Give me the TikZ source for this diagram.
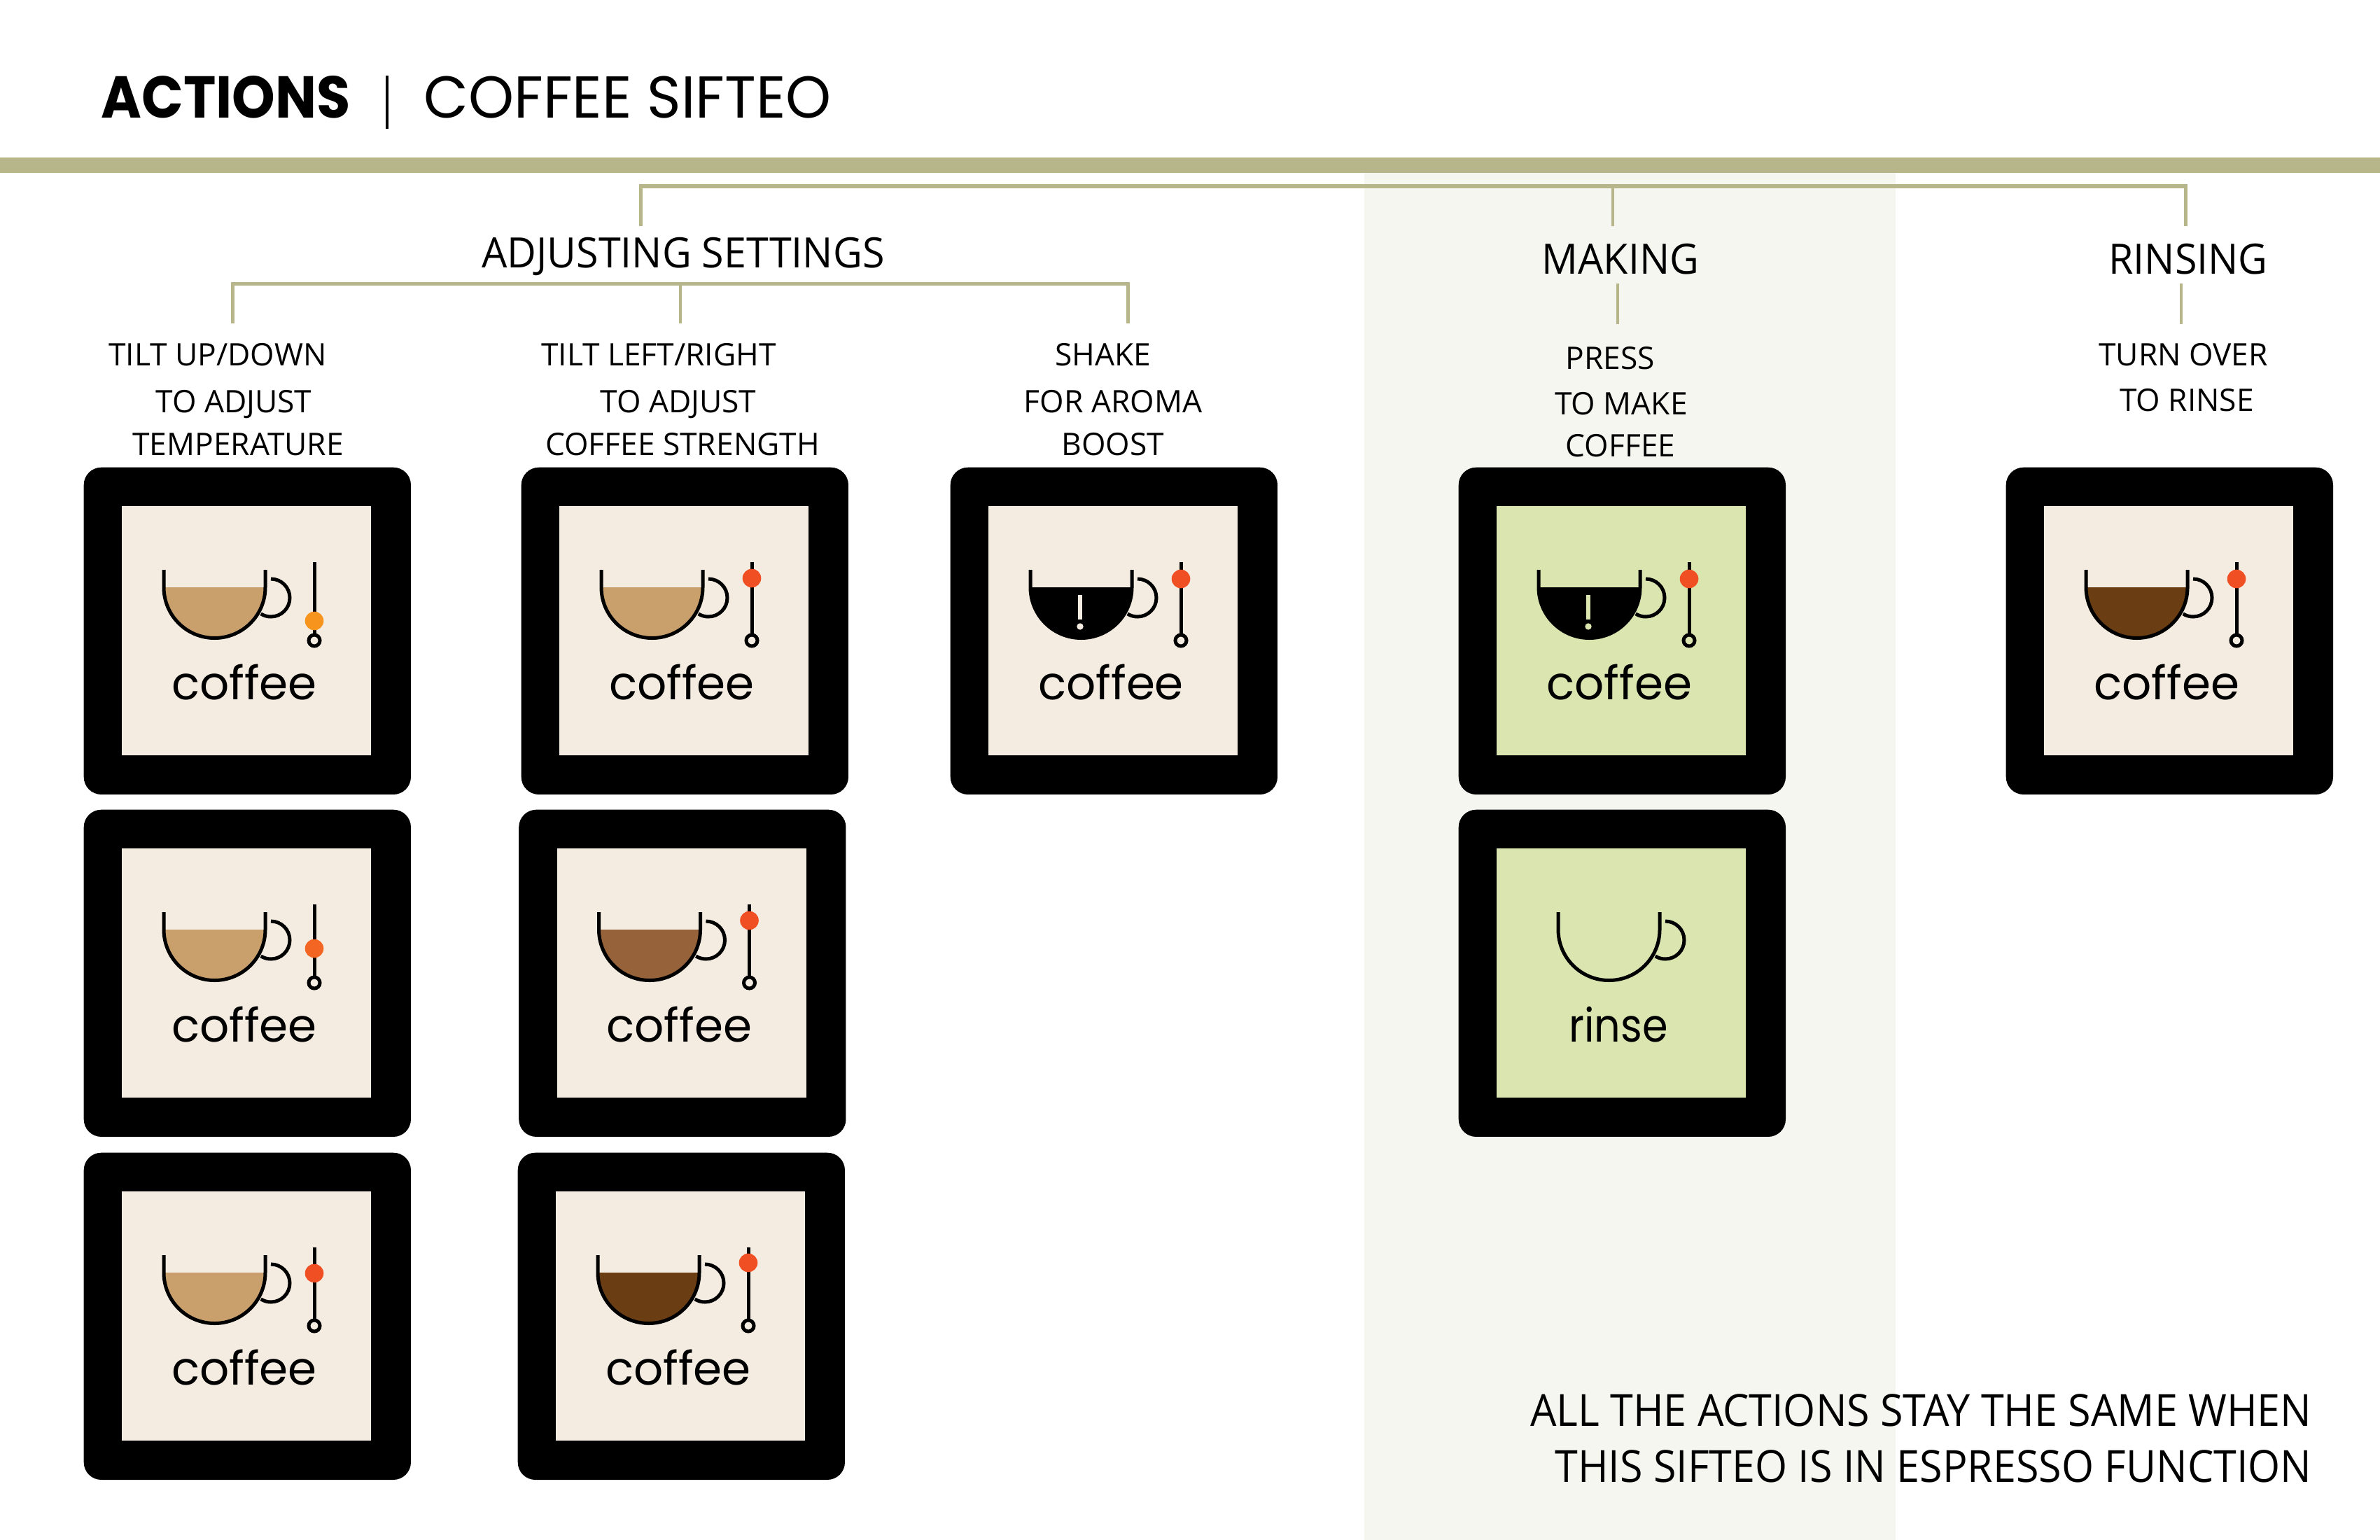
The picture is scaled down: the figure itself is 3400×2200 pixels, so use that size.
\documentclass[tikz,border=0pt]{standalone}
\usepackage{fontspec}
\setmainfont{Open Sans}
\newfontfamily\headf{Open Sans}[FakeStretch=0.96]
\newfontfamily\notef{Open Sans}[FakeStretch=0.935]
\newfontfamily\ttlb{Poppins}[FakeStretch=0.93]
\newfontfamily\ttlr{Poppins}[FakeStretch=0.98]
\newfontfamily\cof{Poppins}
\newfontfamily\rinsef{Poppins}[FakeStretch=0.89]
\definecolor{treecol}{HTML}{B7B68A}
\definecolor{panel}{HTML}{F6F6F1}
\definecolor{cream}{HTML}{F4ECE0}
\definecolor{lime}{HTML}{DAE5B0}
\definecolor{latte}{HTML}{C9A06C}
\definecolor{mocha}{HTML}{96623A}
\definecolor{roast}{HTML}{6A3E12}
\definecolor{knobA}{HTML}{F7941D}
\definecolor{knobB}{HTML}{F26522}
\definecolor{knobC}{HTML}{F04E23}
\tikzset{
  tree/.style={draw=treecol,line width=0.05cm},
  stem/.style={draw=treecol,line width=0.04cm},
  body/.style={anchor=base,inner sep=0,font=\fontsize{12.6pt}{12.6pt}\selectfont},
  head/.style={anchor=base,inner sep=0,font=\headf\fontsize{17pt}{17pt}\selectfont},
  note/.style={anchor=base east,inner sep=0,font=\notef\fontsize{18pt}{18pt}\selectfont},
  ink/.style={draw=black,line width=0.05cm},
  device/.style={fill=black,rounded corners=0.25cm,minimum size=4.67cm,inner sep=0,anchor=north west},
  screenword/.style={anchor=base,inner sep=0,font=\cof\fontsize{18.8pt}{18.8pt}\selectfont},
}
% name, x, y, background
\newcommand{\devframe}[4]{%
  \node[device] (#1) at (#2,#3) {};
  \fill[#4] (#2+55,#3+56) rectangle ++(356,356);
}
% x, y, fill colour of the drink
\newcommand{\cupshape}[3]{%
  \begin{scope}[shift={(#1,#2)}]
  \fill[#3] (115,172) arc[start angle=180,end angle=0,radius=72.5] -- cycle;
  \draw[ink] (268,160) arc[start angle=-90,end angle=122,radius=27];
  \draw[ink] (115,147) -- (115,172) arc[start angle=180,end angle=0,radius=72.5] -- (260,147);
  \end{scope}}
\newcommand{\knob}[4]{\fill[#4] (#1+330,#2+#3) circle[radius=13.3];}
\newcommand{\bang}[3]{%
  \fill[#3] (#1+183,#2+183) rectangle ++(6,35);
  \fill[#3] (#1+186,#2+228) circle[radius=4.7];}
\newcommand{\sliderbar}[3]{%
  \draw[ink] (#1+330,#2+136) -- (#1+330,#2+240);
  \draw[ink,fill=#3] (#1+330,#2+248) circle[radius=8];}
% name x y bg drink knobdy knobcolour
\newcommand{\card}[7]{%
  \devframe{#1}{#2}{#3}{#4}
  \cupshape{#2}{#3}{#5}
  \sliderbar{#2}{#3}{#4}
  \knob{#2}{#3}{#6}{#7}
  \node[screenword] (#1w) at (#2+230,#3+332) {coffee};
}
\begin{document}
\begin{tikzpicture}[x=0.01cm,y=-0.01cm]
\useasboundingbox (0,0) rectangle (3400,2200);
\fill[white] (0,0) rectangle (3400,2200);
\fill[panel] (1949,247) rectangle (2708,2200);
\fill[treecol] (0,225) rectangle (3400,247);
% title
\node[anchor=base west,inner sep=0,font=\ttlb\bfseries\fontsize{24pt}{24pt}\selectfont] (titleA) at (144,169) {ACTIONS};
\draw[black,line width=0.04cm] (553,108) -- (553,184);
\node[anchor=base west,inner sep=0,font=\ttlr\fontsize{24pt}{24pt}\selectfont] (titleB) at (605,169) {COFFEE SIFTEO};
% tree
\coordinate (busL) at (915,266); \coordinate (busR) at (3122,266);
\coordinate (adjTop) at (915,323); \coordinate (makTop) at (2304,323); \coordinate (rinTop) at (3122,323);
\coordinate (makJ) at (2304,266);
\draw[tree] (adjTop) -- (busL) -- (busR) -- (rinTop);
\draw[stem] (makJ) -- (makTop);
\coordinate (sL) at (332,405); \coordinate (sM) at (972,405); \coordinate (sR) at (1611,405);
\coordinate (sLb) at (332,462); \coordinate (sMb) at (972,462); \coordinate (sRb) at (1611,462);
\draw[tree] (sLb) -- (sL) -- (sR) -- (sRb);
\draw[stem] (sM) -- (sMb);
\coordinate (m1) at (2311,405); \coordinate (m2) at (2311,463);
\coordinate (r1) at (3116,405); \coordinate (r2) at (3116,463);
\draw[stem] (m1) -- (m2);
\draw[stem] (r1) -- (r2);
% headings
\node[head] (adj) at (976,382) {ADJUSTING SETTINGS};
\node[head] (mak) at (2315,391) {MAKING};
\node[head] (rin) at (3126,391) {RINSING};
% labels
\node[body] (a1) at (311,522) {TILT UP/DOWN};
\node[body] (a2) at (334,589) {TO ADJUST};
\node[body] (a3) at (340,650) {TEMPERATURE};
\node[body] (b1) at (941,522) {TILT LEFT/RIGHT};
\node[body] (b2) at (969,589) {TO ADJUST};
\node[body] (b3) at (975,650) {COFFEE STRENGTH};
\node[body] (c1) at (1576,522) {SHAKE};
\node[body] (c2) at (1590,589) {FOR AROMA};
\node[body] (c3) at (1590,650) {BOOST};
\node[body] (d1) at (2300,527) {PRESS};
\node[body] (d2) at (2316,592) {TO MAKE};
\node[body] (d3) at (2315,652) {COFFEE};
\node[body] (e1) at (3119,522) {TURN OVER};
\node[body] (e2) at (3124,587) {TO RINSE};
% cards
\card{t1}{119}{667}{cream}{latte}{220}{knobA}
\card{t2}{119}{1156}{cream}{latte}{199}{knobB}
\card{t3}{119}{1646}{cream}{latte}{173}{knobC}
\card{s1}{744}{667}{cream}{latte}{159}{knobC}
\card{s2}{740.5}{1156}{cream}{mocha}{159}{knobC}
\card{s3}{739}{1646}{cream}{roast}{158}{knobC}
\card{ar}{1357}{667}{cream}{black}{160}{knobC}
\bang{1357}{667}{cream}
\card{mk}{2083}{667}{lime}{black}{160}{knobC}
\bang{2083}{667}{lime}
\devframe{rs}{2083}{1156}{lime}
\cupshape{2111}{1156}{lime}
\node[screenword,font=\rinsef\fontsize{18.8pt}{18.8pt}\selectfont] (rsw) at (2312,1488) {rinse};
\card{tn}{2865}{667}{cream}{roast}{160}{knobC}
% note
\node[note] (n1) at (3303,2037) {ALL THE ACTIONS STAY THE SAME WHEN};
\node[note] (n2) at (3303,2117) {THIS SIFTEO IS IN ESPRESSO FUNCTION};
\end{tikzpicture}
\end{document}
